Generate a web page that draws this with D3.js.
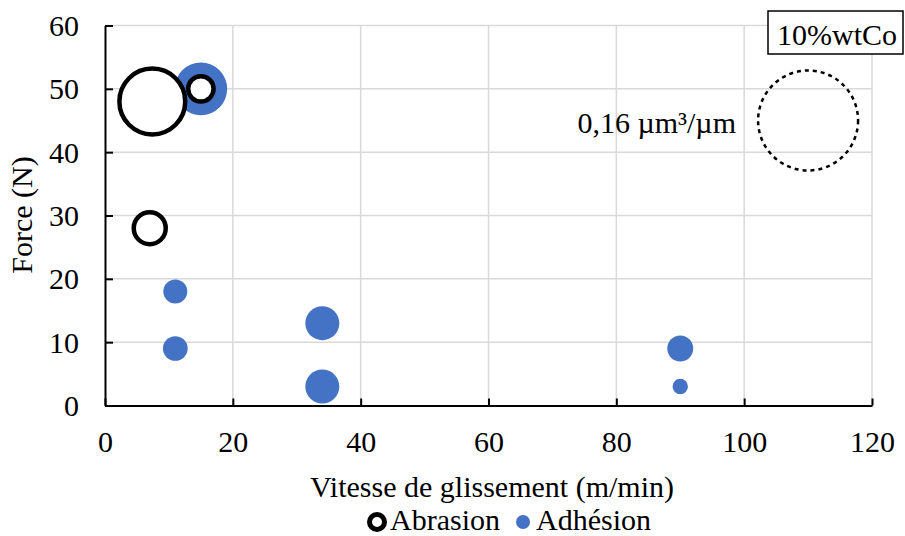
<!DOCTYPE html>
<html>
<head>
<meta charset="utf-8">
<script src="https://cdn.jsdelivr.net/npm/d3@7"></script>
<style>
  body { margin: 0; background: #fff; }
  svg { display: block; font-family: "Liberation Serif", "Times New Roman", serif; }
</style>
</head>
<body>
<svg id="chart" width="905" height="536"></svg>
<script>
// ---- Data ----
const xTicks = [0, 20, 40, 60, 80, 100, 120];
const yTicks = [0, 10, 20, 30, 40, 50, 60];

// Abrasion series: speed (m/min), force (N), wear volume (µm³/µm)
const abrasionX = [7.4, 15, 7];
const abrasionY = [48, 50, 28];
const abrasionSize = [0.078, 0.0138, 0.0207];

// Adhesion series
const adhesionX = [15, 11, 11, 34, 34, 90, 90];
const adhesionY = [50, 18, 9, 13, 3, 9, 3];
const adhesionSize = [0.0443, 0.0092, 0.0098, 0.0185, 0.0185, 0.0108, 0.0038];

// Reference bubble
const refX = [110];
const refY = [45];
const refSize = [0.16];
const refLabel = "0,16 µm³/µm";
const boxLabel = "10%wtCo";
const seriesNames = ["Abrasion", "Adhésion"];
const xTitle = "Vitesse de glissement (m/min)";
const yTitle = "Force (N)";

// ---- Layout ----
const svg = d3.select("#chart");
const pLeft = 105, pRight = 872, pTop = 25.5, pBottom = 405.5;
const x = d3.scaleLinear().domain([0, 120]).range([pLeft, pRight]);
const y = d3.scaleLinear().domain([0, 60]).range([pBottom, pTop]);
const r = d3.scaleSqrt().domain([0, 0.16]).range([0, 50]);
const blue = "#4472C4";
const fontSize = 30;
const serif = "'Liberation Serif', 'Times New Roman', serif";

// Gridlines
const grid = svg.append("g");
grid.selectAll("line.h").data(yTicks.filter(d => d > 0)).join("line")
  .attr("x1", pLeft).attr("x2", pRight)
  .attr("y1", d => y(d)).attr("y2", d => y(d))
  .attr("stroke", "#d9d9d9").attr("stroke-width", 1.5);
grid.selectAll("line.v").data(xTicks.filter(d => d > 0)).join("line")
  .attr("x1", d => x(d)).attr("x2", d => x(d))
  .attr("y1", pTop).attr("y2", pBottom)
  .attr("stroke", "#d9d9d9").attr("stroke-width", 1.5);

// Axes
const xAxis = svg.append("g").attr("transform", `translate(0,${pBottom})`)
  .call(d3.axisBottom(x).tickValues(xTicks).tickSizeInner(-7).tickSizeOuter(0).tickPadding(25));
const yAxis = svg.append("g").attr("transform", `translate(${pLeft},0)`)
  .call(d3.axisLeft(y).tickValues(yTicks).tickSizeInner(-8).tickSizeOuter(0).tickPadding(26));
[xAxis, yAxis].forEach(a => {
  a.attr("font-family", serif).attr("font-size", fontSize);
  a.select(".domain").attr("stroke", "#000").attr("stroke-width", 2);
  a.selectAll(".tick line").attr("stroke", "#000").attr("stroke-width", 2);
  a.selectAll(".tick text").attr("fill", "#000");
});
yAxis.selectAll(".tick text").attr("dy", "0.33em");
xAxis.selectAll(".tick text").attr("dy", "0.71em");

// Bubbles: adhesion first, abrasion on top
const adh = adhesionX.map((d, i) => ({x: d, y: adhesionY[i], s: adhesionSize[i]}));
const abr = abrasionX.map((d, i) => ({x: d, y: abrasionY[i], s: abrasionSize[i]}));
svg.append("g").selectAll("circle").data(adh).join("circle")
  .attr("cx", d => x(d.x)).attr("cy", d => y(d.y)).attr("r", d => r(d.s))
  .attr("fill", blue);
svg.append("g").selectAll("circle").data(abr.sort((a, b) => b.s - a.s)).join("circle")
  .attr("cx", d => x(d.x)).attr("cy", d => y(d.y)).attr("r", d => r(d.s) - 2)
  .attr("fill", "#fff").attr("stroke", "#000").attr("stroke-width", 4.5);

// Reference bubble
svg.append("g").selectAll("circle").data(refX.map((d, i) => ({x: d, y: refY[i], s: refSize[i]}))).join("circle")
  .attr("cx", d => x(d.x)).attr("cy", d => y(d.y)).attr("r", d => r(d.s))
  .attr("fill", "none").attr("stroke", "#000").attr("stroke-width", 2.5).attr("stroke-dasharray", "4,4");
svg.append("text").attr("x", 736).attr("y", 133).attr("text-anchor", "end")
  .attr("font-size", fontSize).text(refLabel);

// Box label
svg.append("rect").attr("x", 768).attr("y", 11).attr("width", 135).attr("height", 43)
  .attr("fill", "#fff").attr("stroke", "#000").attr("stroke-width", 1.5);
svg.append("text").attr("x", 837).attr("y", 45).attr("text-anchor", "middle")
  .attr("font-size", fontSize).text(boxLabel);

// Axis titles
svg.append("text").attr("x", 492).attr("y", 497).attr("text-anchor", "middle")
  .attr("font-size", fontSize).text(xTitle);
svg.append("text").attr("transform", "translate(32,215) rotate(-90)").attr("text-anchor", "middle")
  .attr("font-size", fontSize).text(yTitle);

// Legend
const lg = svg.append("g");
lg.append("circle").attr("cx", 377).attr("cy", 522).attr("r", 7.5)
  .attr("fill", "#fff").attr("stroke", "#000").attr("stroke-width", 5);
lg.append("text").attr("x", 390).attr("y", 529.5).attr("font-size", fontSize).text(seriesNames[0]);
lg.append("circle").attr("cx", 523).attr("cy", 522).attr("r", 7).attr("fill", blue);
lg.append("text").attr("x", 536).attr("y", 529.5).attr("font-size", fontSize).text(seriesNames[1]);
</script>
</body>
</html>
